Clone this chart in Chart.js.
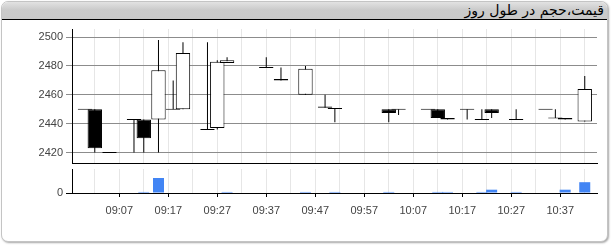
<!DOCTYPE html>
<html><head><meta charset="utf-8">
<script src="https://cdn.jsdelivr.net/npm/chart.js@4"></script>
<style>
html,body{margin:0;padding:0;background:#fff;}
#wrap{position:relative;width:611px;height:245px;overflow:hidden;}
#panel{position:absolute;left:1px;top:1px;width:605px;height:239px;border:1px solid #c4c4c4;border-radius:7px;box-shadow:1px 1px 2px rgba(0,0,0,0.35);background:#fff;}
#head{position:absolute;left:0;top:0;right:0;height:17px;border-bottom:1px solid #000;background:linear-gradient(#e2e2e2,#cbcbcb 45%,#c9c9c9);border-radius:6px 6px 0 0;}
#title{position:absolute;right:3px;top:0;font:14px "DejaVu Sans";color:#000;direction:rtl;line-height:17px;white-space:nowrap;}
canvas{position:absolute;left:0;top:0;}
</style></head>
<body>
<div id="wrap">
  <div id="panel"><div id="head"><div id="title">قیمت،حجم در طول روز</div></div></div>
  <canvas id="c1" width="611" height="245"></canvas>
  <canvas id="c2" width="611" height="245"></canvas>
</div>
<script>
const times  = ['09:00','09:02','09:05','09:10','09:12','09:15','09:18','09:20','09:25','09:27','09:29','09:37','09:40','09:45','09:49','09:51','10:02','10:04','10:10','10:12','10:14','10:18','10:21','10:23','10:28','10:34','10:36','10:38','10:42'];
const openP  = [2450,2450,2420,2443,2443,2443,2450,2450,2436,2437,2482,2479,2471,2460,2452,2450.5,2450,2450,2450,2450,2444,2450,2443,2450,2443,2450,2444,2444,2441.5];
const highP  = [2450,2450,2420,2443,2443,2498,2470,2496.5,2496.5,2484,2486,2486,2479,2480,2460,2450.5,2450,2450,2450,2450,2444,2450,2450,2450,2450,2450,2450,2444,2473];
const lowP   = [2450,2420,2420,2420,2420,2420,2450,2450,2436,2436,2482,2479,2470,2460,2451,2441,2441,2446,2450,2444,2443,2443,2443,2444,2443,2450,2444,2443,2441.5];
const closeP = [2450,2423,2420,2443,2430,2477,2450,2489,2436,2483,2484,2479,2470,2478,2451,2450.5,2447.5,2450,2450,2444,2443,2450,2443,2447.5,2443,2450,2444,2443,2464];
const volume = [0,0,0,0,7,100,0,0,0,0,7,0,0,7,0,7,7,0,0,7,7,0,7,22,7,0,0,22,72];
const priceTicks = [2420,2440,2460,2480,2500];
const volumeTicks = [0];
const xTickLabels = ['09:07','09:17','09:27','09:37','09:47','09:57','10:07','10:17','10:27','10:37'];

const toMin = s => { const [h,m] = s.split(':').map(Number); return h*60+m; };
const fmt = v => String(Math.floor(v/60)).padStart(2,'0')+':'+String(Math.round(v%60)).padStart(2,'0');
const labelMins = xTickLabels.map(toMin);
const gridMins = [];
labelMins.forEach(m => { gridMins.push(m-5, m); });
gridMins.push(labelMins[labelMins.length-1]+5);

const X_MIN = 537.35, X_MAX = 644.5;

Chart.defaults.font.family = '"Liberation Sans", Arial, sans-serif';
Chart.defaults.font.size = 11;
Chart.defaults.color = '#444';
Chart.defaults.animation = false;

const xBase = (showLabels) => ({
  type: 'linear', min: X_MIN, max: X_MAX, offset: false,
  grid: { offset: false, color: '#e6e6e6', drawTicks: showLabels, tickLength: 4,
          tickColor: ctx => (ctx.tick && labelMins.includes(ctx.tick.value)) ? '#000' : 'rgba(0,0,0,0)' },
  border: { color: '#000', width: 1 },
  afterBuildTicks: s => { s.ticks = gridMins.map(v => ({ value: v })); },
  ticks: { display: showLabels, autoSkip: false, maxRotation: 0, padding: 7,
           callback: v => labelMins.includes(v) ? fmt(v) : '' },
  afterFit: s => { s.height = showLabels ? 30 : 0; }
});

const bodyRange = i => {
  const o = openP[i], c = closeP[i];
  if (Math.abs(o - c) < 0.7) { const m = (o + c) / 2; return [m - 0.35, m + 0.35]; }
  return [o, c];
};

new Chart(document.getElementById('c1'), {
  type: 'bar',
  data: {
    datasets: [
      { label: 'body', order: 0, grouped: false, barThickness: 14.4, borderWidth: 1, borderColor: '#000',
        borderSkipped: false, inflateAmount: 0,
        backgroundColor: times.map((t,i) => closeP[i] > openP[i] ? '#fff' : '#000'),
        data: times.map((t,i) => ({ x: toMin(t), y: bodyRange(i) })) },
      { label: 'wick', order: 1, grouped: false, barThickness: 1, borderWidth: 0, inflateAmount: 0,
        backgroundColor: '#000',
        data: times.map((t,i) => ({ x: toMin(t), y: [lowP[i], highP[i]] })) }
    ]
  },
  options: {
    responsive: false, events: [],
    layout: { padding: { left: 0, top: 29, right: 14, bottom: 82 } },
    plugins: { legend: { display: false }, tooltip: { enabled: false } },
    scales: {
      x: xBase(false),
      y: { type: 'linear', min: 2412.8, max: 2505.6, beginAtZero: false,
           grid: { color: '#8c8c8c', tickLength: 6 },
           border: { color: '#000', width: 1 },
           afterBuildTicks: s => { s.ticks = priceTicks.map(v => ({ value: v })); },
           ticks: { padding: 3, callback: v => String(v) },
           afterFit: s => { s.width = 72; } }
    }
  }
});

new Chart(document.getElementById('c2'), {
  type: 'bar',
  data: {
    datasets: [
      { label: 'volume', grouped: false, barThickness: 11, borderWidth: 0, inflateAmount: 0,
        backgroundColor: '#4285f4',
        data: times.map((t,i) => ({ x: toMin(t), y: volume[i] })) }
    ]
  },
  options: {
    responsive: false, events: [],
    layout: { padding: { left: 0, top: 169, right: 14, bottom: 22 } },
    plugins: { legend: { display: false }, tooltip: { enabled: false } },
    scales: {
      x: xBase(true),
      y: { type: 'linear', min: 0, max: 160,
           grid: { drawOnChartArea: false, tickLength: 6, tickColor: '#000' },
           border: { color: '#000', width: 1 },
           afterBuildTicks: s => { s.ticks = volumeTicks.map(v => ({ value: v })); },
           ticks: { padding: 3, callback: v => String(v) },
           afterFit: s => { s.width = 72; } }
    }
  }
});
</script>
</body></html>
